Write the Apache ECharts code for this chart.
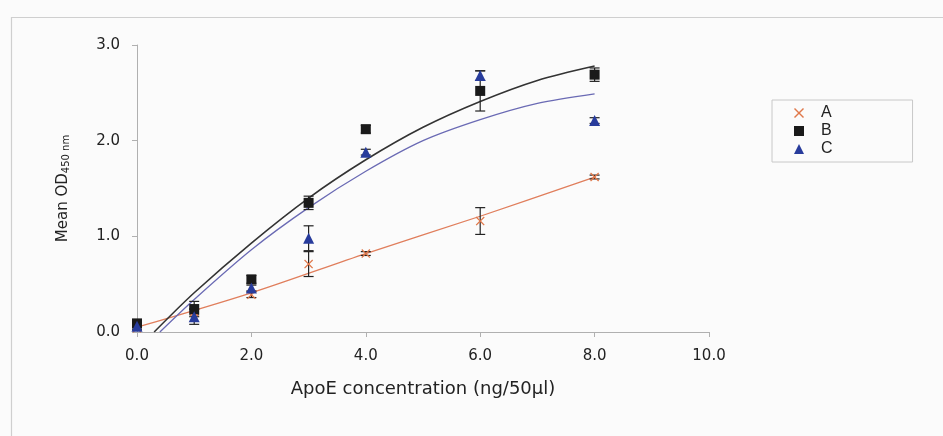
<!DOCTYPE html>
<html>
<head>
<meta charset="utf-8">
<script src="https://cdn.jsdelivr.net/npm/echarts@6/dist/echarts.min.js"></script>
<style>
  html, body { margin: 0; padding: 0; background: #fbfbfb; }
  #chart { width: 943px; height: 436px; }
</style>
</head>
<body>
<div id="chart"></div>
<script>
// ApoE standard curves: mean OD450 with error bars and fitted trend lines
const concentrations = [0, 1, 2, 3, 4, 6, 8];

const meanA = [0.04, 0.21, 0.39, 0.71, 0.82, 1.16, 1.62];
const errA  = [0.02, 0.03, 0.03, 0.13, 0.02, 0.14, 0.02];
const meanB = [0.09, 0.24, 0.55, 1.35, 2.12, 2.52, 2.69];
const errB  = [0.03, 0.08, 0.04, 0.07, 0.04, 0.21, 0.07];
const meanC = [0.06, 0.16, 0.46, 0.98, 1.88, 2.68, 2.21];
const errC  = [0.03, 0.08, 0.03, 0.13, 0.03, 0.05, 0.03];

// Trend lines
const fitAx = [0, 2, 4, 6, 8];
const fitAy = [0.05, 0.41, 0.82, 1.21, 1.62];
const fitBx = [0.3, 1, 2, 3, 4, 5, 6, 7, 8];
const fitBy = [0, 0.41, 0.93, 1.40, 1.80, 2.14, 2.41, 2.63, 2.78];
const fitCx = [0.4, 1, 2, 3, 4, 5, 6, 7, 8];
const fitCy = [0, 0.34, 0.86, 1.30, 1.68, 2.00, 2.22, 2.39, 2.49];

const xTicks = [0, 2, 4, 6, 8, 10];
const yTicks = [0, 1, 2, 3];

const colA = '#e0784a', colB = '#1a1a1a', colC = '#283c9c';
const lineA = '#e07e5c', lineB = '#333333', lineC = '#6a6ab4';

const crossPath = 'path://M0,1L1,0L5,4L9,0L10,1L6,5L10,9L9,10L5,6L1,10L0,9L4,5Z';

const zip = (xs, ys) => xs.map((x, i) => [x, ys[i]]);
const errData = (means, errs) => concentrations.map((x, i) => [x, means[i] - errs[i], means[i] + errs[i]]);

function errorBar(params, api) {
  const x = api.value(0);
  const lo = api.coord([x, api.value(1)]);
  const hi = api.coord([x, api.value(2)]);
  const hw = 5;
  const style = { stroke: '#222', lineWidth: 1.2, fill: null };
  return {
    type: 'group',
    children: [
      { type: 'line', shape: { x1: lo[0], y1: lo[1], x2: hi[0], y2: hi[1] }, style },
      { type: 'line', shape: { x1: lo[0] - hw, y1: lo[1], x2: lo[0] + hw, y2: lo[1] }, style },
      { type: 'line', shape: { x1: hi[0] - hw, y1: hi[1], x2: hi[0] + hw, y2: hi[1] }, style }
    ]
  };
}

const font = '"DejaVu Sans", Verdana, sans-serif';
const legendFont = '"Liberation Sans", Arial, sans-serif';
const chart = echarts.init(document.getElementById('chart'), null, { renderer: 'canvas' });

chart.setOption({
  backgroundColor: '#fbfbfb',
  animation: false,
  textStyle: { fontFamily: font },
  graphic: [{
    type: 'rect', left: 9, top: 15, z: -1,
    shape: { x: 0, y: 0, width: 960, height: 450 },
    style: { fill: 'none', stroke: '#cfcfcf', lineWidth: 1.2 }
  }],
  grid: { left: 137, right: 234, top: 45, bottom: 104 },
  legend: {
    data: ['A', 'B', 'C'],
    orient: 'vertical',
    left: 772, top: 100,
    padding: [5, 80, 5, 22],
    itemGap: 2,
    itemWidth: 10, itemHeight: 10,
    borderColor: '#c8c8c8', borderWidth: 1,
    textStyle: { fontFamily: legendFont, fontSize: 16, color: '#222', padding: [0, 0, 0, 12], lineHeight: 15 }
  },
  xAxis: {
    type: 'value', min: 0, max: 10, interval: 2,
    name: 'ApoE concentration (ng/50\u03bcl)',
    nameLocation: 'middle', nameGap: 48,
    nameTextStyle: { fontFamily: font, fontSize: 18, color: '#222' },
    axisLine: { lineStyle: { color: '#b0b0b0' } },
    axisTick: { length: 5, lineStyle: { color: '#b0b0b0' }, customValues: xTicks },
    axisLabel: { margin: 17, fontSize: 15, color: '#222', customValues: xTicks, formatter: v => v.toFixed(1) },
    splitLine: { show: false }
  },
  yAxis: {
    type: 'value', min: 0, max: 3, interval: 1,
    name: 'Mean OD{sub|450 nm}',
    nameLocation: 'middle', nameGap: 66, nameRotate: 90,
    nameTextStyle: {
      fontFamily: font, fontSize: 15, color: '#222',
      rich: { sub: { fontFamily: font, fontSize: 10, color: '#222', padding: [6, 0, 0, 0] } }
    },
    axisLine: { show: true, lineStyle: { color: '#b0b0b0' } },
    axisTick: { show: true, length: 5, lineStyle: { color: '#b0b0b0' }, customValues: yTicks },
    axisLabel: { margin: 17, fontSize: 15, color: '#222', customValues: yTicks, formatter: v => v.toFixed(1) },
    splitLine: { show: false }
  },
  series: [
    { name: 'fitA', type: 'line', data: zip(fitAx, fitAy), showSymbol: false, smooth: 0.3,
      lineStyle: { color: lineA, width: 1.3 }, z: 1, silent: true },
    { name: 'fitB', type: 'line', data: zip(fitBx, fitBy), showSymbol: false, smooth: 0.3,
      lineStyle: { color: lineB, width: 1.6 }, z: 1, silent: true },
    { name: 'fitC', type: 'line', data: zip(fitCx, fitCy), showSymbol: false, smooth: 0.3,
      lineStyle: { color: lineC, width: 1.3 }, z: 1, silent: true },
    { name: 'errA', type: 'custom', renderItem: errorBar, data: errData(meanA, errA), z: 2 },
    { name: 'errB', type: 'custom', renderItem: errorBar, data: errData(meanB, errB), z: 2 },
    { name: 'errC', type: 'custom', renderItem: errorBar, data: errData(meanC, errC), z: 2 },
    { name: 'A', type: 'scatter', data: zip(concentrations, meanA), symbol: crossPath, symbolSize: 9,
      itemStyle: { color: colA, opacity: 1 }, z: 3 },
    { name: 'B', type: 'scatter', data: zip(concentrations, meanB), symbol: 'rect', symbolSize: 10,
      itemStyle: { color: colB, opacity: 1 }, z: 3 },
    { name: 'C', type: 'scatter', data: zip(concentrations, meanC), symbol: 'triangle', symbolSize: 11,
      itemStyle: { color: colC, opacity: 1 }, z: 4 }
  ]
});
</script>
</body>
</html>
